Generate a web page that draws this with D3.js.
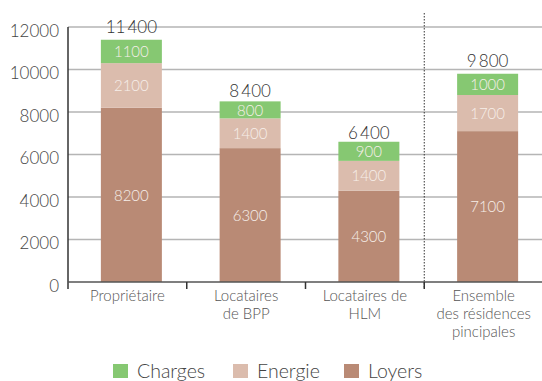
<!DOCTYPE html>
<html>
<head>
<meta charset="utf-8">
<script src="https://cdn.jsdelivr.net/npm/d3@7"></script>
<style>
  html, body { margin: 0; padding: 0; background: #fff; }
  svg { display: block; font-family: Lato, "Open Sans", sans-serif; font-weight: 300; }
</style>
</head>
<body>
<svg id="chart" width="542" height="381"></svg>
<script>
// Categories (line breaks marked with \n)
const categories = [
  "Propriétaire",
  "Locataires\nde BPP",
  "Locataires de\nHLM",
  "Ensemble\ndes résidences\npincipales"
];
// Stack components, bottom to top
const loyers  = [8200, 6300, 4300, 7100];
const energie = [2100, 1400, 1400, 1700];
const charges = [1100,  800,  900, 1000];
const totals  = [11400, 8400, 6400, 9800];

const seriesNames  = ["Loyers", "Energie", "Charges"];
const legendOrder  = ["Charges", "Energie", "Loyers"];
const yTicks       = [0, 2000, 4000, 6000, 8000, 10000, 12000];

const colors = { Loyers: "#b98a75", Energie: "#dbbcad", Charges: "#86c872" };

const svg = d3.select("#chart");
const margin = { left: 68, top: 27 };
const W = 542;

const x = d3.scaleBand().domain(categories).range([margin.left, 543]).padding(0);
const y = d3.scaleLinear().domain([0, 12000]).range([282, 27]);

const barW = 61, barShift = 4;

// Horizontal gridlines
svg.append("g").selectAll("line").data(yTicks.slice(1)).join("line")
  .attr("x1", margin.left).attr("x2", W)
  .attr("y1", d => y(d)).attr("y2", d => y(d))
  .attr("stroke", "#b5b5b5").attr("stroke-width", 1.5);

// Stacked data
const rows = categories.map((c, i) => ({ cat: c, Loyers: loyers[i], Energie: energie[i], Charges: charges[i] }));
const stacked = d3.stack().keys(seriesNames)(rows);

const barX = d => x(d.data.cat) + x.bandwidth() / 2 - barW / 2 + barShift;

const layers = svg.append("g").selectAll("g").data(stacked).join("g")
  .attr("fill", s => colors[s.key]);
layers.selectAll("rect").data(s => s).join("rect")
  .attr("x", barX)
  .attr("width", barW)
  .attr("y", d => y(d[1]))
  .attr("height", d => y(d[0]) - y(d[1]));

// Segment values
layers.selectAll("text").data(s => s).join("text")
  .attr("x", d => barX(d) + barW / 2)
  .attr("y", d => (y(d[0]) + y(d[1])) / 2)
  .attr("dy", "0.38em")
  .attr("text-anchor", "middle")
  .attr("fill", "#f7efea")
  .attr("font-size", 15)
  .text(d => d[1] - d[0]);

// Totals above bars
const fmt = d3.formatLocale({ decimal: ",", thousands: "\u2009", grouping: [3], currency: ["", ""] }).format(",");
svg.append("g").selectAll("text").data(rows).join("text")
  .attr("x", (d, i) => x(d.cat) + x.bandwidth() / 2 + barShift)
  .attr("y", (d, i) => y(totals[i]) - 7)
  .attr("text-anchor", "middle")
  .attr("fill", "#333")
  .attr("font-size", 17)
  .text((d, i) => fmt(totals[i]));

// Y axis
const yAxis = svg.append("g").attr("transform", `translate(${margin.left},0)`)
  .call(d3.axisLeft(y).tickValues(yTicks).tickSize(0).tickPadding(9).tickFormat(d3.format("d")));
yAxis.select(".domain").attr("stroke", "#333").attr("stroke-width", 1.5)
  .attr("d", `M0,${y(12000)}V${y(0) + 7}`);
yAxis.selectAll("text").attr("font-size", 17).attr("fill", "#444").attr("dy", "0.55em")
  .attr("font-family", "Lato, sans-serif").attr("font-weight", 300);

// X axis baseline and ticks at band edges
svg.append("line")
  .attr("x1", margin.left).attr("x2", W)
  .attr("y1", y(0)).attr("y2", y(0))
  .attr("stroke", "#555").attr("stroke-width", 1.5);
svg.append("g").selectAll("line").data(categories.slice(1)).join("line")
  .attr("x1", d => x(d)).attr("x2", d => x(d))
  .attr("y1", y(0)).attr("y2", y(0) + 7)
  .attr("stroke", "#333").attr("stroke-width", 1.5);

// Dotted separator before the overall category
const sepX = x(categories[3]);
svg.append("line")
  .attr("x1", sepX).attr("x2", sepX)
  .attr("y1", 13).attr("y2", y(0) + 7)
  .attr("stroke", "#333").attr("stroke-width", 1)
  .attr("stroke-dasharray", "1.5,1.5");

// Category labels
const catLabels = svg.append("g").selectAll("text").data(categories).join("text")
  .attr("x", d => x(d) + x.bandwidth() / 2)
  .attr("y", 301)
  .attr("text-anchor", "middle")
  .attr("fill", "#555")
  .attr("font-size", 15);
catLabels.selectAll("tspan").data(d => d.split("\n")).join("tspan")
  .attr("x", function () { return this.parentNode.getAttribute("x"); })
  .attr("dy", (d, i) => i === 0 ? 0 : 18)
  .text(d => d);

// Legend
const legendX = [113, 233, 344];
const legend = svg.append("g").selectAll("g").data(legendOrder).join("g")
  .attr("transform", (d, i) => `translate(${legendX[i]},364)`);
legend.append("rect").attr("width", 15).attr("height", 14).attr("fill", d => colors[d]);
legend.append("text").attr("x", 24).attr("y", 14)
  .attr("font-size", 19.5).attr("fill", "#444").text(d => d);
</script>
</body>
</html>
